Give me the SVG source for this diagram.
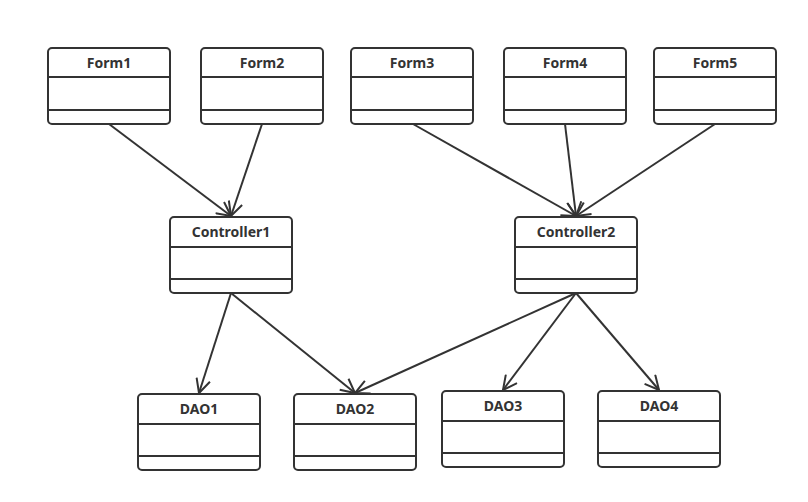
<svg xmlns="http://www.w3.org/2000/svg" width="808" height="502" viewBox="0 0 808 502">
<defs>
<style>
.box{fill:#fff;stroke:#333;stroke-width:2}
.div{stroke:#333;stroke-width:2}
.t{font-family:"Noto Sans","Open Sans",sans-serif;font-weight:bold;font-size:14px;fill:#333;text-anchor:middle;dominant-baseline:central}
.e{stroke:#333;stroke-width:2;fill:none;marker-end:url(#arr)}
</style>
<marker id="arr" viewBox="0 0 16 16" refX="15" refY="8" markerWidth="16" markerHeight="16" markerUnits="userSpaceOnUse" orient="auto">
<path d="M1,1 L15,8 L1,15" fill="none" stroke="#333" stroke-width="2"/>
</marker>
</defs>
<rect width="808" height="502" fill="#fff"/>
<g id="connectors">
<line class="e" x1="109" y1="124" x2="231" y2="216"/>
<line class="e" x1="262" y1="124" x2="231" y2="216"/>
<line class="e" x1="413" y1="124" x2="576" y2="216"/>
<line class="e" x1="565" y1="124" x2="576" y2="216"/>
<line class="e" x1="715" y1="124" x2="576" y2="216"/>
<line class="e" x1="231" y1="293" x2="199" y2="393"/>
<line class="e" x1="231" y1="293" x2="355" y2="393"/>
<line class="e" x1="576" y1="293" x2="355" y2="393"/>
<line class="e" x1="576" y1="293" x2="503" y2="390"/>
<line class="e" x1="576" y1="293" x2="659" y2="390"/>
</g>
<g id="Form1"><rect class="box" x="48" y="48" width="122" height="76" rx="4"/><line class="div" x1="48" y1="77" x2="170" y2="77"/><line class="div" x1="48" y1="110" x2="170" y2="110"/><text class="t" x="109" y="62">Form1</text></g>
<g id="Form2"><rect class="box" x="201" y="48" width="122" height="76" rx="4"/><line class="div" x1="201" y1="77" x2="323" y2="77"/><line class="div" x1="201" y1="110" x2="323" y2="110"/><text class="t" x="262" y="62">Form2</text></g>
<g id="Form3"><rect class="box" x="351" y="48" width="122" height="76" rx="4"/><line class="div" x1="351" y1="77" x2="473" y2="77"/><line class="div" x1="351" y1="110" x2="473" y2="110"/><text class="t" x="412" y="62">Form3</text></g>
<g id="Form4"><rect class="box" x="504" y="48" width="122" height="76" rx="4"/><line class="div" x1="504" y1="77" x2="626" y2="77"/><line class="div" x1="504" y1="110" x2="626" y2="110"/><text class="t" x="565" y="62">Form4</text></g>
<g id="Form5"><rect class="box" x="654" y="48" width="122" height="76" rx="4"/><line class="div" x1="654" y1="77" x2="776" y2="77"/><line class="div" x1="654" y1="110" x2="776" y2="110"/><text class="t" x="715" y="62">Form5</text></g>
<g id="Controller1"><rect class="box" x="170" y="217" width="122" height="76" rx="4"/><line class="div" x1="170" y1="247" x2="292" y2="247"/><line class="div" x1="170" y1="279" x2="292" y2="279"/><text class="t" x="231" y="231">Controller1</text></g>
<g id="Controller2"><rect class="box" x="515" y="217" width="122" height="76" rx="4"/><line class="div" x1="515" y1="247" x2="637" y2="247"/><line class="div" x1="515" y1="279" x2="637" y2="279"/><text class="t" x="576" y="231">Controller2</text></g>
<g id="DAO1"><rect class="box" x="138" y="394" width="122" height="76" rx="4"/><line class="div" x1="138" y1="424" x2="260" y2="424"/><line class="div" x1="138" y1="456" x2="260" y2="456"/><text class="t" x="199" y="408">DAO1</text></g>
<g id="DAO2"><rect class="box" x="294" y="394" width="122" height="76" rx="4"/><line class="div" x1="294" y1="424" x2="416" y2="424"/><line class="div" x1="294" y1="456" x2="416" y2="456"/><text class="t" x="355" y="408">DAO2</text></g>
<g id="DAO3"><rect class="box" x="442" y="391" width="122" height="76" rx="4"/><line class="div" x1="442" y1="421" x2="564" y2="421"/><line class="div" x1="442" y1="453" x2="564" y2="453"/><text class="t" x="503" y="405">DAO3</text></g>
<g id="DAO4"><rect class="box" x="598" y="391" width="122" height="76" rx="4"/><line class="div" x1="598" y1="421" x2="720" y2="421"/><line class="div" x1="598" y1="453" x2="720" y2="453"/><text class="t" x="659" y="405">DAO4</text></g>
</svg>
